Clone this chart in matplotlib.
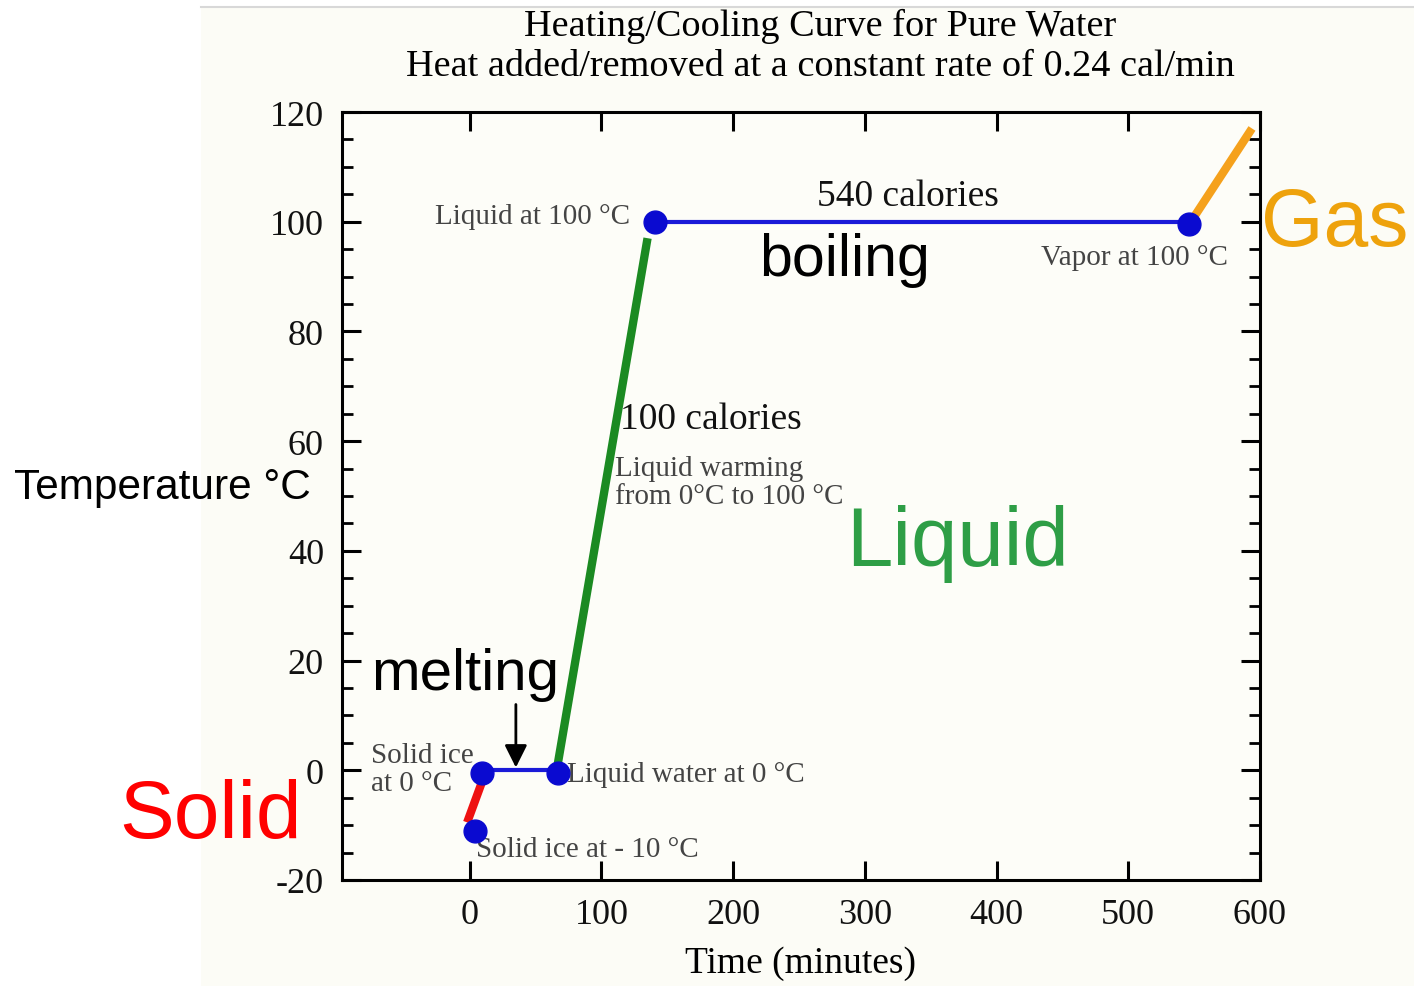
import matplotlib
matplotlib.use("Agg")
import matplotlib.pyplot as plt
from matplotlib.patches import Rectangle

# heating curve pieces (time in minutes, temperature in C)
ice_x = [-2, 11]
ice_y = [-9.5, -1]
melt_x = [9, 67]
melt_y = [0, 0]
water_x = [66, 135]
water_y = [0, 97]
boil_x = [141, 546]
boil_y = [100, 100]
steam_x = [549, 594]
steam_y = [100.5, 117]

# marked states
dot_x = [4, 9, 67, 141, 546]
dot_y = [-11, -0.5, -0.5, 100, 99.5]

xticks = [0, 100, 200, 300, 400, 500, 600]
yticks = [-20, 0, 20, 40, 60, 80, 100, 120]

plt.rcParams["axes.unicode_minus"] = False
serif = ["Liberation Serif", "DejaVu Serif"]
sans = ["Liberation Sans", "DejaVu Sans"]

fig = plt.figure(figsize=(14.14, 9.87), dpi=100)
fig.patches.append(Rectangle((0.142, 0.0), 0.858, 0.992, transform=fig.transFigure,
                             facecolor="#fcfcf6", edgecolor="none", zorder=-10))
fig.lines.append(plt.Line2D([0.142, 1.0], [0.992, 0.992], transform=fig.transFigure,
                            color="#d8d8d8", lw=1.5))

ax = fig.add_axes([0.2419, 0.1074, 0.6491, 0.7781])
ax.set_facecolor("#fdfdf8")
ax.set_xlim(-97, 600)
ax.set_ylim(-20, 120)

ax.plot(melt_x, melt_y, color="#1a1ad8", lw=3, zorder=3)
ax.plot(boil_x, boil_y, color="#1a1ad8", lw=3, zorder=3)
ax.plot(ice_x, ice_y, color="#ee1111", lw=6, zorder=4, solid_capstyle="butt")
ax.plot(water_x, water_y, color="#1b8a22", lw=6, zorder=4, solid_capstyle="butt")
ax.plot(steam_x, steam_y, color="#f5a11c", lw=6, zorder=4, solid_capstyle="butt")
ax.scatter(dot_x, dot_y, s=270, color="#0a0ad0", zorder=5)

ax.annotate("", xy=(35, 0), xytext=(35, 12.5),
            arrowprops=dict(arrowstyle="-|>", color="black", lw=2, mutation_scale=34))

for s in ax.spines.values():
    s.set_linewidth(2.2)
ax.set_xticks(xticks)
ax.set_xticklabels([str(v) for v in xticks])
ax.set_yticks(yticks)
ax.set_yticklabels([str(v) for v in yticks])
ax.set_yticks(range(-20, 121, 5), minor=True)
ax.tick_params(which="major", direction="in", length=14, width=2.2,
               top=True, right=True, labelsize=26, pad=13)
ax.tick_params(which="minor", direction="in", length=8, width=2, left=True, right=True)
for lab in ax.get_xticklabels() + ax.get_yticklabels():
    lab.set_family(serif)
    lab.set_color("#111111")

ax.set_xlabel("Time (minutes)", family=serif, fontsize=27, labelpad=10)
fig.text(0.58, 0.973, "Heating/Cooling Curve for Pure Water", family=serif,
         fontsize=27.5, ha="center", va="center")
fig.text(0.58, 0.932, "Heat added/removed at a constant rate of 0.24 cal/min",
         family=serif, fontsize=27.5, ha="center", va="center")

note = dict(family=serif, color="#444444", fontsize=21)
ax.text(122, 101, "Liquid at 100 \u00b0C", ha="right", va="center", **note)
ax.text(434, 93.5, "Vapor at 100 \u00b0C", ha="left", va="center", **note)
ax.text(110, 52.5, "Liquid warming\nfrom 0\u00b0C to 100 \u00b0C", ha="left", va="center",
        linespacing=1.1, **note)
ax.text(-75, 0.3, "Solid ice\nat 0 \u00b0C", ha="left", va="center", linespacing=1.1, **note)
ax.text(74, -0.6, "Liquid water at 0 \u00b0C", ha="left", va="center", **note)
ax.text(5, -14.3, "Solid ice at - 10 \u00b0C", ha="left", va="center", **note)

big = dict(family=serif, color="#111111", fontsize=27)
ax.text(333, 104.8, "540 calories", ha="center", va="center", **big)
ax.text(114, 64, "100 calories", ha="left", va="center", **big)

ax.text(220, 93.2, "boiling", family=sans, fontsize=42.5, ha="left", va="center")
ax.text(-75, 17.5, "melting", family=sans, fontsize=42, ha="left", va="center", zorder=6)
ax.text(286, 41.5, "Liquid", family=sans, fontsize=60, color="#2e9e46",
        ha="left", va="center")

fig.text(0.01, 0.506, "Temperature \u00b0C", family=sans, fontsize=30.5, ha="left", va="center")
fig.text(0.084, 0.172, "Solid", family=sans, fontsize=59, color="#ff0000",
         ha="left", va="center")
fig.text(0.892, 0.772, "Gas", family=sans, fontsize=58, color="#eea20c",
         ha="left", va="center")

fig.savefig("out.png", dpi=100)
